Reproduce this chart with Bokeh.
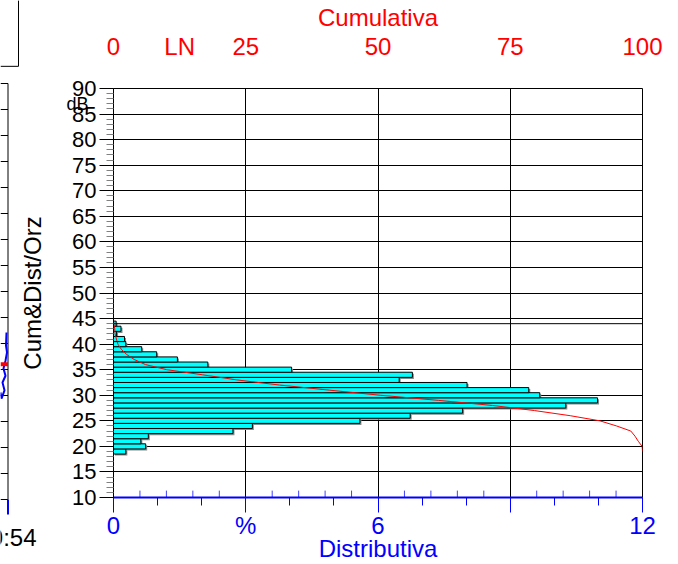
from bokeh.plotting import figure
from bokeh.models import Range1d, LinearAxis, FixedTicker, Span, ColumnDataSource
from bokeh.core.properties import value
from bokeh.transform import dodge
from bokeh.embed import file_html
from bokeh.resources import INLINE

# ---- data ----
levels = list(range(19, 45))  # dB bins
dist_pct = [0.28, 0.73, 0.62, 0.79, 2.71, 3.15, 5.59, 6.73, 7.92, 10.26,
            10.98, 9.67, 9.42, 8.02, 6.48, 6.78, 4.04, 2.14, 1.45, 0.98,
            0.64, 0.28, 0.25, 0.07, 0.17, 0.06]
cum_levels = list(range(45, 18, -1))
cum_pct = [0, 0.06, 0.23, 0.30, 0.55, 0.83, 1.47, 2.45, 3.90, 6.04,
           10.08, 16.86, 23.34, 31.36, 40.78, 50.45, 61.43, 71.69, 79.61, 86.34,
           91.93, 95.08, 97.79, 98.58, 99.20, 99.93, 100]
ln_level = 44

y_ticks = list(range(10, 95, 5))
y_minor = [v for v in range(10, 91) if v % 5]
dist_ticks = [0, 3, 6, 9, 12]
dist_minor = [1, 2, 4, 5, 7, 8, 10, 11]
dist_labels = {0: "0", 3: "%", 6: "6", 9: "", 12: "12"}
cum_ticks = [0, 12.5, 25, 50, 75, 100]
cum_labels = {0: "0", 12.5: "LN", 25: "25", 50: "50", 75: "75", 100: "100"}
cum_minor = [5, 10, 15, 20, 30, 35, 40, 45, 55, 60, 65, 70, 80, 85, 90, 95]

# neighbouring (cut-off) panel on the left: trace end
nb_wave_x = [6, 5.5, 6.5, 5, 3, 5, 2, 4, 1, 0]
nb_wave_db = [42.1, 39.6, 38.3, 36.7, 35.2, 33.8, 32.5, 31.0, 29.4, 30.6]
nb_marker_db = 36

top_title = "Cumulativa"
bottom_title = "Distributiva"
y_title = "Cum&Dist/Orz"
unit_text = "dB"
clock_text = "0:54"

FONT = "Liberation Sans"
BLUE = "#0000FF"
RED = "#FF0000"
W, H = 678, 564

p = figure(width=W, height=H, x_range=Range1d(0, 12), y_range=Range1d(10, 90),
           output_backend="svg", toolbar_location=None,
           min_border_left=113, min_border_right=36, min_border_top=83, min_border_bottom=65)
p.extra_x_ranges = {"cum": Range1d(0, 100)}
p.background_fill_color = "white"
p.border_fill_color = "white"
p.outline_line_color = "black"
p.outline_line_alpha = 1
p.outline_line_width = 1

# left axis
ya = p.yaxis[0]
ya.ticker = FixedTicker(ticks=y_ticks, minor_ticks=y_minor)
ya.major_tick_out = 14
ya.major_tick_in = 0
ya.minor_tick_out = 7
ya.minor_tick_in = 0
ya.major_tick_line_color = "black"
ya.minor_tick_line_color = "#808080"
ya.axis_line_color = "black"
ya.major_label_text_font = FONT
ya.major_label_text_font_size = "22px"
ya.major_label_text_color = "black"
ya.major_label_standoff = 3
ya.axis_label = y_title
ya.axis_label_text_font = FONT
ya.axis_label_text_font_size = "24px"
ya.axis_label_text_font_style = "normal"
ya.axis_label_text_color = "black"
ya.axis_label_standoff = 23

# bottom axis (distributive %)
xa = p.xaxis[0]
xa.ticker = FixedTicker(ticks=dist_ticks, minor_ticks=dist_minor)
xa.major_label_overrides = dist_labels
xa.axis_line_color = BLUE
xa.axis_line_width = 2
xa.major_tick_line_color = BLUE
xa.minor_tick_line_color = BLUE
xa.major_tick_out = 15
xa.major_tick_in = 0
xa.minor_tick_out = 8
xa.minor_tick_in = 0
xa.major_label_text_font = FONT
xa.major_label_text_font_size = "24px"
xa.major_label_text_color = BLUE
xa.major_label_standoff = -1
xa.axis_label = bottom_title
xa.axis_label_text_font = FONT
xa.axis_label_text_font_size = "24px"
xa.axis_label_text_font_style = "normal"
xa.axis_label_text_color = BLUE
xa.axis_label_standoff = -7

# top axis (cumulative)
ta = LinearAxis(x_range_name="cum", ticker=FixedTicker(ticks=cum_ticks, minor_ticks=[]),
                major_label_overrides=cum_labels, axis_line_color=None,
                major_tick_line_color=None, minor_tick_line_color=None,
                major_label_text_color=RED, major_label_text_font=FONT,
                major_label_text_font_size="24px", major_label_standoff=23,
                axis_label=top_title, axis_label_text_font=FONT, axis_label_text_font_size="24px",
                axis_label_text_font_style="normal", axis_label_text_color=RED,
                axis_label_standoff=-1)
p.add_layout(ta, "above")

# grids
p.xgrid[0].ticker = FixedTicker(ticks=dist_ticks)
p.ygrid[0].ticker = FixedTicker(ticks=y_ticks)
for g in (p.xgrid[0], p.ygrid[0]):
    g.grid_line_color = "black"
    g.grid_line_alpha = 1
    g.grid_line_width = 1

p.add_layout(Span(location=ln_level, dimension="width", line_color="black", line_width=1))

# bars
src = ColumnDataSource(dict(y=levels, right=dist_pct))
p.hbar(y=dodge("y", -0.3), left=0.034, right=dodge("right", 0.034), height=1, source=src,
       fill_color="#8a8a8a", line_color=None)
p.hbar(y="y", left=0, right="right", height=1, source=src,
       fill_color="#00FFFF", line_color="black", line_width=1)

# cumulative curve
p.line(x=cum_pct, y=cum_levels, x_range_name="cum", line_color=RED, line_width=1)

# cumulative minor ticks on bottom axis (pointing in)
p.segment(x0=cum_minor, x1=cum_minor, y0=[10] * len(cum_minor), y1=[11.35] * len(cum_minor),
          x_range_name="cum", line_color=BLUE, line_alpha=0.75, line_width=1)

# ---- transparent overlay (separate root, absolutely positioned at page origin) ----
# x in page pixels, y in dB (same vertical scale as the main chart)
ov = figure(width=W, height=H, x_range=Range1d(0, W), y_range=Range1d(10 - 65 / 5.2, 90 + 83 / 5.2),
            output_backend="svg", toolbar_location=None, x_axis_location=None, y_axis_location=None,
            min_border=0)
ov.outline_line_color = None
ov.background_fill_color = None
ov.border_fill_color = None
ov.grid.visible = False
ov.styles = {"position": "absolute", "left": "0px", "top": "0px"}

nb_x0, nb_x1 = 0, 7.5
ov.segment(x0=[nb_x0] * len(y_ticks), x1=[nb_x1] * len(y_ticks), y0=y_ticks, y1=y_ticks,
           line_color="black", line_width=1)
ov.segment(x0=[nb_x1], x1=[nb_x1], y0=[10], y1=[90], line_color="black", line_width=1)
ov.segment(x0=[nb_x1], x1=[nb_x1], y0=[10], y1=[10 - 15 / 5.2], line_color=BLUE, line_width=2)
ov.line(x=nb_wave_x, y=nb_wave_db, line_color=BLUE, line_width=2)
ov.segment(x0=[nb_x0], x1=[nb_x1], y0=[nb_marker_db], y1=[nb_marker_db], line_color=RED, line_width=4)
# legend box of the neighbouring panel
ov.line(x=[0, 18, 18], y=[93.3, 93.3, 106], line_color="black", line_width=1)

ov.text(x=[88], y=[86.1], text=[unit_text], text_align="right", text_baseline="alphabetic",
        text_color="black", text_font=value(FONT), text_font_size="18px")
ov.text(x=[36], y=[2.69], text=[clock_text], text_align="right", text_baseline="alphabetic",
        text_color="black", text_font=value(FONT), text_font_size="24px")

open("out.html", "w").write(file_html([p, ov], INLINE))
